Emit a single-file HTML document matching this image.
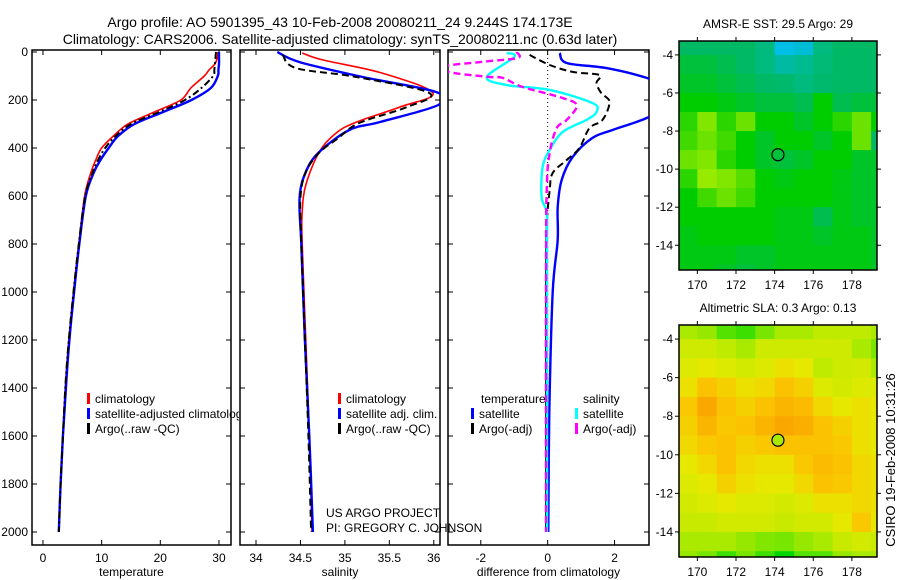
<!DOCTYPE html>
<html><head><meta charset="utf-8">
<style>
html,body{margin:0;padding:0;background:#fff;}
svg{display:block;font-family:"Liberation Sans",sans-serif;}
</style></head>
<body>
<svg id="fig" width="900" height="580" viewBox="0 0 900 580" xmlns="http://www.w3.org/2000/svg">
<text x="340" y="27" font-size="14" text-anchor="middle">Argo profile: AO 5901395_43 10-Feb-2008 20080211_24 9.244S 174.173E</text>
<text x="340" y="44" font-size="14" text-anchor="middle">Climatology: CARS2006. Satellite-adjusted climatology: synTS_20080211.nc (0.63d later)</text>
<g id="plots"></g>
<text x="326" y="517" font-size="12">US ARGO PROJECT</text>
<text x="326" y="532" font-size="12">PI: GREGORY C. JOHNSON</text>
<text transform="translate(895,460) rotate(-90)" font-size="13" text-anchor="middle">CSIRO 19-Feb-2008 10:31:26</text>
</svg>
<script>
// ---- profile data ----
const tDepth = [0,25,50,75,100,150,200,250,300,350,400,450,500,600,800,1000,1200,1400,1600,1800,2000];
const tClim  = [29.8,29.7,29.3,28.3,27.5,25.2,23.5,19,14.5,12,10,9,8.2,7.1,6.1,5.2,4.4,3.8,3.4,3,2.7];
const tSat   = [30,30,30,29.9,29.8,28.6,25.3,20.5,15.6,12.8,11.2,9.8,8.7,7.3,6.2,5.3,4.5,3.9,3.4,3,2.7];
const tArgo  = [29.5,29.4,29.3,29.2,29,27,24.2,19.8,15,12.4,10.6,9.4,8.5,7.2,6.1,5.2,4.4,3.8,3.4,3,2.7];

const sDepthClim = [4,33,88,171,229,292,338,417,554,667,800,1200,1600,2000];
const sClim      = [34.52,34.75,35.42,35.99,35.62,35.13,34.9,34.71,34.56,34.52,34.52,34.56,34.6,34.63];
const sDepthSat  = [0,42,104,167,221,292,325,417,500,608,800,1200,1600,2000];
const sSat       = [34.24,34.49,35.2,36.03,36.05,35.39,35.05,34.71,34.56,34.49,34.51,34.55,34.6,34.64];
const sDepthArgo = [12,67,104,171,229,296,360,420,500,608,800,1200,1600,2000];
const sArgo      = [34.3,34.45,35.13,35.95,35.7,35.16,34.92,34.71,34.56,34.5,34.51,34.55,34.59,34.62];

const dDepthTSat  = [4,46,67,108,150,220,275,325,358,437,533,646,783,1000,1500,2000];
const dTSat       = [0.36,0.57,1.76,2.96,3.6,3.6,2.96,1.94,1.34,0.75,0.42,0.3,0.3,0.15,0.05,0.02];
const dDepthTArgo = [12,54,83,96,129,171,208,283,317,400,450,504,575,729,1000,1500,2000];
const dTArgo      = [-0.54,0.06,0.75,1.55,1.46,1.6,1.85,1.64,1.25,0.95,0.57,0.15,0.06,-0.03,-0.05,-0.05,-0.05];
const dDepthSSat  = [4,21,104,138,158,213,250,283,333,408,479,604,671,800,1200,2000];
const dSSat       = [-1.22,-1,-1.82,-1.22,0.06,1.34,1.46,1.16,0.45,0.06,-0.15,-0.18,-0.03,-0.02,-0.02,-0.02];
const dDepthSArgo = [0,25,40,60,85,104,108,146,188,221,283,317,421,575,1000,2000];
const dSArgo      = [-0.93,-0.9,-1.9,-3.1,-2.9,-1.73,-1.34,-0.75,0.36,0.87,0.57,0.27,0.06,-0.03,-0.05,-0.05];

const depthTicks = [0,200,400,600,800,1000,1200,1400,1600,1800,2000];
const tTicks = [0,10,20,30];
const sTicks = [34,34.5,35,35.5,36];
const sTickLabels = ["34","34.5","35","35.5","36"];
const dTicks = [-2,0,2];

// ---- map data (1-degree cells, lon 169..179, lat -3..-16) ----
const mapLon = [169,170,171,172,173,174,175,176,177,178,179];
const mapLat = [-3,-4,-5,-6,-7,-8,-9,-10,-11,-12,-13,-14,-15];
const sstGrid = [
[.45,.45,.45,.45,.42,.3,.32,.42,.45,.45,.45],
[.47,.47,.46,.45,.42,.38,.4,.43,.45,.45,.45],
[.48,.48,.47,.46,.45,.44,.42,.44,.45,.45,.45],
[.5,.5,.49,.48,.47,.47,.46,.5,.46,.47,.47],
[.52,.56,.52,.55,.5,.5,.48,.5,.52,.55,.5],
[.53,.55,.53,.5,.48,.5,.5,.48,.5,.55,.45],
[.55,.56,.52,.5,.48,.47,.48,.5,.5,.48,.48],
[.52,.57,.56,.54,.5,.49,.5,.5,.49,.48,.48],
[.5,.53,.55,.53,.5,.5,.5,.5,.49,.48,.48],
[.5,.5,.5,.5,.5,.49,.49,.46,.49,.48,.48],
[.49,.5,.5,.5,.5,.49,.49,.48,.49,.49,.48],
[.49,.49,.49,.48,.48,.49,.49,.49,.49,.49,.48],
[.49,.49,.48,.47,.48,.49,.49,.49,.49,.49,.48]];
const slaGrid = [
[.6,.58,.52,.5,.55,.6,.6,.62,.62,.62,.6],
[.65,.65,.62,.6,.65,.65,.65,.65,.65,.6,.55],
[.68,.7,.68,.66,.68,.72,.7,.62,.65,.66,.6],
[.72,.8,.76,.72,.74,.8,.76,.68,.66,.68,.68],
[.78,.88,.8,.76,.8,.84,.82,.74,.7,.72,.7],
[.76,.84,.78,.8,.84,.88,.86,.8,.76,.72,.7],
[.74,.78,.8,.76,.78,.8,.8,.8,.78,.72,.7],
[.7,.74,.8,.74,.72,.72,.78,.82,.8,.74,.72],
[.68,.7,.76,.72,.7,.7,.74,.8,.78,.74,.72],
[.66,.68,.7,.68,.68,.66,.68,.72,.72,.74,.72],
[.64,.64,.66,.66,.66,.64,.66,.66,.7,.78,.7],
[.6,.6,.6,.58,.56,.55,.58,.6,.64,.66,.64],
[.58,.55,.5,.55,.5,.45,.52,.52,.58,.6,.6]];
const lonTicks = [170,172,174,176,178];
const latTicks = [-4,-6,-8,-10,-12,-14];
const argoLon = 174.173, argoLat = -9.244;

const NS = "http://www.w3.org/2000/svg";
const root = document.getElementById('plots');
function el(tag, attrs, parent){const e=document.createElementNS(NS,tag);for(const k in attrs)e.setAttribute(k,attrs[k]);(parent||root).appendChild(e);return e;}

const top0=52, dpx=0.24, axBottom=545, axTop=50;
const yD = d => top0 + d*dpx;

// clip for legend of panel 1 (covered by panel 2 in reference)
const lc=el('clipPath',{id:'clip-legend1'}); el('rect',{x:0,y:0,width:239,height:580},lc);

function panel(name,x0,x1,vmin,vmax,ticks,labels,title,showDepth){
  const xs = v => x0 + (v-vmin)/(vmax-vmin)*(x1-x0);
  const g = el('g',{});
  
  
  const cid='clip-'+name;
  const cp=el('clipPath',{id:cid},g); el('rect',{x:x0,y:axTop,width:x1-x0,height:axBottom-axTop},cp);
  const box=el('rect',{x:x0,y:axTop,width:x1-x0,height:axBottom-axTop,fill:'none',stroke:'#000','stroke-width':1.5},g);
  
  
  ticks.forEach((t,i)=>{
    const x=xs(t);
    el('line',{x1:x,x2:x,y1:axBottom,y2:axBottom-5,stroke:'#000'},g);
    el('line',{x1:x,x2:x,y1:axTop,y2:axTop+5,stroke:'#000'},g);
    const tx=el('text',{x:x,y:562,'font-size':12,'text-anchor':'middle'},g); tx.textContent=labels[i];
    
    
  });
  depthTicks.forEach(d=>{
    const y=yD(d);
    el('line',{x1:x0,x2:x0+5,y1:y,y2:y,stroke:'#000'},g);
    el('line',{x1:x1,x2:x1-5,y1:y,y2:y,stroke:'#000'},g);
    if(showDepth){const t=el('text',{x:x0-4,y:y+4,'font-size':12,'text-anchor':'end'},g);t.textContent=d;
      
      }
  });
  const tt=el('text',{x:(x0+x1)/2,y:576,'font-size':12,'text-anchor':'middle'},g); tt.textContent=title;
  
  
  const inner=el('g',{'clip-path':'url(#'+cid+')'},g);
  return {xs,inner};
}
function smoothPath(P){
  let d='M'+P[0][0].toFixed(1)+','+P[0][1].toFixed(1);
  for(let i=0;i<P.length-1;i++){
    const p0=P[Math.max(0,i-1)],p1=P[i],p2=P[i+1],p3=P[Math.min(P.length-1,i+2)];
    const c1=[p1[0]+(p2[0]-p0[0])/6,p1[1]+(p2[1]-p0[1])/6];
    const c2=[p2[0]-(p3[0]-p1[0])/6,p2[1]-(p3[1]-p1[1])/6];
    d+=' C'+c1.map(v=>v.toFixed(1)).join(',')+' '+c2.map(v=>v.toFixed(1)).join(',')+' '+p2[0].toFixed(1)+','+p2[1].toFixed(1);
  }
  return d;
}
function line(p,depths,vals,color,w,dash,name){
  const P=depths.map((d,i)=>[p.xs(vals[i]),yD(d)]);
  const a={d:smoothPath(P),fill:'none',stroke:color,'stroke-width':w,'stroke-linejoin':'round'};
  if(dash)a['stroke-dasharray']=dash;
  const e=el('path',a,p.inner);
  
  
}
function legend(x,y,items,parent){
  items.forEach((it,i)=>{
    const yy=y+i*15;
    if(it.c){const m=el('rect',{x:x,y:yy-10,width:3,height:11,fill:it.c},parent);
      
      }
    const t=el('text',{x:x+(it.c?8:0),y:yy,'font-size':12},parent); t.textContent=it.t;
    
    
  });
}

const p1=panel('temperature-panel',32,231,-1.87,32.05,tTicks,tTicks.map(String),'temperature',true);
line(p1,tDepth,tClim,'#f00',1.6,null,'temp-climatology-line');
line(p1,tDepth,tSat,'#00f',2.4,null,'temp-satellite-line');
line(p1,tDepth,tArgo,'#000',2,'7,3,2,3','temp-argo-line');

const p2=panel('salinity-panel',240,440,33.82,36.07,sTicks,sTickLabels,'salinity',false);
line(p2,sDepthClim,sClim,'#f00',1.6,null,'sal-climatology-line');
line(p2,sDepthSat,sSat,'#00f',2.4,null,'sal-satellite-line');
line(p2,sDepthArgo,sArgo,'#000',2,'7,4','sal-argo-line');

const p3=panel('difference-panel',448,649,-2.98,3.03,dTicks,dTicks.map(String),'difference from climatology',false);
const z=el('line',{x1:p3.xs(0),x2:p3.xs(0),y1:axTop,y2:400,stroke:'#000','stroke-dasharray':'1,3'},p3.inner);


line(p3,dDepthTSat,dTSat,'#00f',2.4,null,'diff-temp-satellite-line');
line(p3,dDepthTArgo,dTArgo,'#000',2,'7,4','diff-temp-argo-line');
line(p3,dDepthSSat,dSSat,'#0ff',2.4,null,'diff-sal-satellite-line');
line(p3,dDepthSArgo,dSArgo,'#f0f',2.4,'7,4','diff-sal-argo-line');

const lg1=el('g',{'clip-path':'url(#clip-legend1)'});


legend(87,403,[{c:'#f00',t:'climatology'},{c:'#00f',t:'satellite-adjusted climatology'},{c:'#000',t:'Argo(..raw -QC)'}],lg1);
legend(338,403,[{c:'#f00',t:'climatology'},{c:'#00f',t:'satellite adj. clim.'},{c:'#000',t:'Argo(..raw -QC)'}]);
legend(481,403,[{t:'temperature'}]);
legend(471,418,[{c:'#00f',t:'satellite'},{c:'#000',t:'Argo(-adj)'}]);
legend(583,403,[{t:'salinity'}]);
legend(575,418,[{c:'#0ff',t:'satellite'},{c:'#f0f',t:'Argo(-adj)'}]);

// ---- maps ----
function interp(stops,v){
  if(v<=stops[0][0])return 'rgb('+stops[0][1].join(',')+')';
  for(let i=1;i<stops.length;i++){if(v<=stops[i][0]){const a=stops[i-1],b=stops[i];const f=(v-a[0])/(b[0]-a[0]);
    return 'rgb('+a[1].map((c,k)=>Math.round(c+(b[1][k]-c)*f)).join(',')+')';}}
  return 'rgb('+stops[stops.length-1][1].join(',')+')';
}
const sstStops=[[0,[0,0,200]],[0.3,[0,190,230]],[0.45,[0,185,100]],[0.5,[0,205,0]],[0.57,[150,235,0]],[1,[255,200,0]]];
const slaStops=[[0.45,[0,215,0]],[0.55,[120,230,0]],[0.62,[190,235,0]],[0.7,[230,232,0]],[0.78,[250,200,0]],[0.88,[250,168,0]],[1,[240,120,0]]];
function map(name,y0,y1,grid,title,stops,circleFill){
  const x0=679,x1=877, lon0=169.05,lon1=179.3, lat0=-3.27,lat1=-15.3;
  const xs=l=>x0+(l-lon0)/(lon1-lon0)*(x1-x0), ys=l=>y0+(l-lat0)/(lat1-lat0)*(y1-y0);
  const g=el('g',{});
  
  
  const cid='clip-'+name; const cp=el('clipPath',{id:cid},g); el('rect',{x:x0,y:y0,width:x1-x0,height:y1-y0},cp);
  const inner=el('g',{'clip-path':'url(#'+cid+')'},g);
  el('rect',{x:x0,y:y0,width:x1-x0,height:y1-y0,fill:'#fff'},inner);
  grid.forEach((row,r)=>row.forEach((v,c)=>{
    const xa=xs(mapLon[c]),xb=xs(mapLon[c]+1),ya=ys(mapLat[r]),yb=ys(mapLat[r]-1);
    const cell=el('rect',{x:xa,y:ya,width:xb-xa+0.5,height:yb-ya+0.5,fill:interp(stops,v)},inner);
    
    
  }));
  const fr=el('rect',{x:x0,y:y0,width:x1-x0,height:y1-y0,fill:'none',stroke:'#000','stroke-width':1.5},g);
  
  
  lonTicks.forEach(l=>{const x=xs(l);
    el('line',{x1:x,x2:x,y1:y1,y2:y1+4,stroke:'#000'},g);el('line',{x1:x,x2:x,y1:y0,y2:y0-4,stroke:'#000'},g);
    const t=el('text',{x:x,y:y1+19,'font-size':12,'text-anchor':'middle'},g);t.textContent=l;
    
    });
  latTicks.forEach(l=>{const y=ys(l);
    el('line',{x1:x0,x2:x0-4,y1:y,y2:y,stroke:'#000'},g);el('line',{x1:x1,x2:x1+4,y1:y,y2:y,stroke:'#000'},g);
    const t=el('text',{x:x0-6,y:y+4,'font-size':12,'text-anchor':'end'},g);t.textContent=l;
    
    });
  const tt=el('text',{x:(x0+x1)/2,y:y0-13,'font-size':12,'text-anchor':'middle'},g);tt.textContent=title;
  
  
  const c=el('circle',{cx:xs(argoLon),cy:ys(argoLat),r:6,fill:circleFill,stroke:'#000','stroke-width':1.2},g);
  
  
}
map('sst-map',41,270,sstGrid,'AMSR-E SST: 29.5 Argo: 29',sstStops,'none');
map('sla-map',325,557,slaGrid,'Altimetric SLA: 0.3 Argo: 0.13',slaStops,interp(slaStops,0.6));
</script>
</body></html>
